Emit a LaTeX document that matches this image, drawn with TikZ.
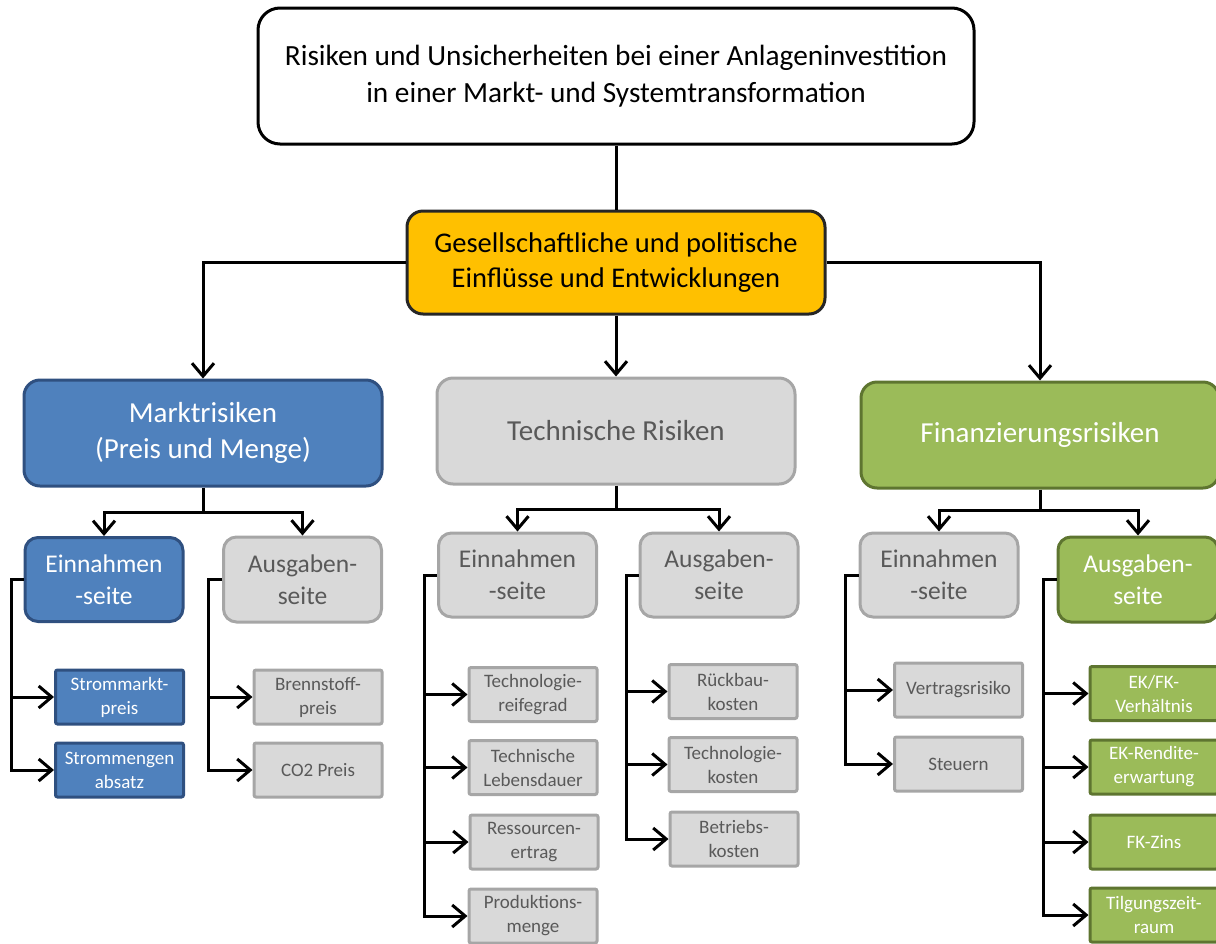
\documentclass[tikz,border=0pt]{standalone}
\usepackage{fontspec}
\setmainfont{Carlito}
\usetikzlibrary{arrows.meta}

\definecolor{bluefill}{HTML}{4F81BD}
\definecolor{blueline}{HTML}{2F5080}
\definecolor{grayfill}{HTML}{D9D9D9}
\definecolor{grayline}{HTML}{A6A6A6}
\definecolor{graytext}{HTML}{595959}
\definecolor{greenfill}{HTML}{9BBB59}
\definecolor{greenline}{HTML}{5E7530}
\definecolor{yellowfill}{HTML}{FFC000}
\definecolor{yellowline}{HTML}{262626}

\tikzset{
  box/.style={align=center, inner sep=0pt, line width=3pt},
  bigsize/.style={minimum width=358pt, minimum height=106pt, rounded corners=16pt,
    font=\fontsize{29}{36}\selectfont},
  midsize/.style={minimum width=158pt, minimum height=84pt, rounded corners=13pt,
    font=\fontsize{25.5}{32}\selectfont},
  leafsize/.style={minimum width=128pt, minimum height=54pt, rounded corners=2pt,
    font=\fontsize{19}{24}\selectfont},
  bluebox/.style={box, draw=blueline, fill=bluefill, text=white},
  graybox/.style={box, draw=grayline, fill=grayfill, text=graytext},
  greenbox/.style={box, draw=greenline, fill=greenfill, text=white},
  conn/.style={line width=3pt, draw=black},
  arr/.style={conn, -{Straight Barb[length=13pt,width=22pt]}},
}

\begin{document}
\begin{tikzpicture}[x=1pt, y=-1pt]
\useasboundingbox (0,0) rectangle (1216,943);

% root and the political layer
\node[box, draw=black, fill=white, minimum width=716pt, minimum height=136pt,
      rounded corners=22pt, font=\fontsize{29.3}{37}\selectfont]
  (top) at (616,76) {Risiken und Unsicherheiten bei einer Anlageninvestition\\in einer Markt- und Systemtransformation};
\node[box, draw=yellowline, fill=yellowfill, minimum width=418pt, minimum height=103pt,
      rounded corners=16pt, font=\fontsize{28.5}{35}\selectfont]
  (pol) at (616,262.5) {Gesellschaftliche und politische\\Einflüsse und Entwicklungen};

% three risk groups
\node[bluebox, bigsize] (markt) at (203,433) {Marktrisiken\\(Preis und Menge)};
\node[graybox, bigsize] (tech) at (616,431) {Technische Risiken};
\node[greenbox, bigsize] (fin) at (1040,435) {Finanzierungsrisiken};

% income / expense sides
\node[bluebox, midsize] (me) at (104,579.5) {Einnahmen\\-seite};
\node[graybox, midsize, minimum height=85pt] (ma) at (302.5,579.5) {Ausgaben-\\seite};
\node[graybox, midsize] (te) at (517.5,575) {Einnahmen\\-seite};
\node[graybox, midsize] (ta) at (719,575) {Ausgaben-\\seite};
\node[graybox, midsize] (fe) at (939,575) {Einnahmen\\-seite};
\node[greenbox, midsize, minimum width=160pt, minimum height=85pt] (fa) at (1138,579.5) {Ausgaben-\\seite};

% individual risks
\node[bluebox, leafsize] (m1) at (119.5,697) {Strommarkt-\\preis};
\node[bluebox, leafsize] (m2) at (119.5,770) {Strommengen\\absatz};
\node[graybox, leafsize] (m3) at (318,697) {Brennstoff-\\preis};
\node[graybox, leafsize] (m4) at (318,770) {CO2 Preis};

\node[graybox, leafsize] (t1) at (533,694.5) {Technologie-\\reifegrad};
\node[graybox, leafsize] (t2) at (533,767.5) {Technische\\Lebensdauer};
\node[graybox, leafsize] (t3) at (534,842) {Ressourcen-\\ertrag};
\node[graybox, leafsize] (t4) at (533,916) {Produktions-\\menge};

\node[graybox, leafsize] (u1) at (733,691.5) {Rückbau-\\kosten};
\node[graybox, leafsize] (u2) at (733,764.5) {Technologie-\\kosten};
\node[graybox, leafsize] (u3) at (734,839) {Betriebs-\\kosten};

\node[graybox, leafsize] (f1) at (958.5,690) {Vertragsrisiko};
\node[graybox, leafsize] (f2) at (958.5,764) {Steuern};

\node[greenbox, leafsize] (g1) at (1154,693.5) {EK/FK-\\Verhältnis};
\node[greenbox, leafsize] (g2) at (1154,767) {EK-Rendite-\\erwartung};
\node[greenbox, leafsize] (g3) at (1154,842) {FK-Zins};
\node[greenbox, leafsize] (g4) at (1154,915) {Tilgungszeit-\\raum};

% top-level connectors
\draw[conn] (top.south) -- (pol.north);
\draw[arr] (pol.west) -| (markt.north);
\draw[arr] (pol.east) -| (fin.north);
\draw[arr] (pol.south) -- (tech.north);

% group splits
\coordinate (mj) at (203,512);
\coordinate (tj) at (616,509);
\coordinate (fj) at (1040,510);
\draw[conn] (markt.south) -- (mj);
\draw[arr] (mj) -| (me.north);
\draw[arr] (mj) -| (ma.north);
\draw[conn] (tech.south) -- (tj);
\draw[arr] (tj) -| (te.north);
\draw[arr] (tj) -| (ta.north);
\draw[conn] (fin.south) -- (fj);
\draw[arr] (fj) -| (fe.north);
\draw[arr] (fj) -| (fa.north);

% side spines
\coordinate (s1) at (11,579.5);
\coordinate (s2) at (208,579.5);
\coordinate (s3) at (424,575);
\coordinate (s4) at (626,575);
\coordinate (s5) at (845,575);
\coordinate (s6) at (1043,579.5);

\draw[arr] (me.west) -- (s1) |- (m1.west);
\draw[arr] (s1) |- (m2.west);
\draw[arr] (ma.west) -- (s2) |- (m3.west);
\draw[arr] (s2) |- (m4.west);

\draw[arr] (te.west) -- (s3) |- (t1.west);
\draw[arr] (s3) |- (t2.west);
\draw[arr] (s3) |- (t3.west);
\draw[arr] (s3) |- (t4.west);

\draw[arr] (ta.west) -- (s4) |- (u1.west);
\draw[arr] (s4) |- (u2.west);
\draw[arr] (s4) |- (u3.west);

\draw[arr] (fe.west) -- (s5) |- (f1.west);
\draw[arr] (s5) |- (f2.west);

\draw[arr] (fa.west) -- (s6) |- (g1.west);
\draw[arr] (s6) |- (g2.west);
\draw[arr] (s6) |- (g3.west);
\draw[arr] (s6) |- (g4.west);
\end{tikzpicture}
\end{document}
